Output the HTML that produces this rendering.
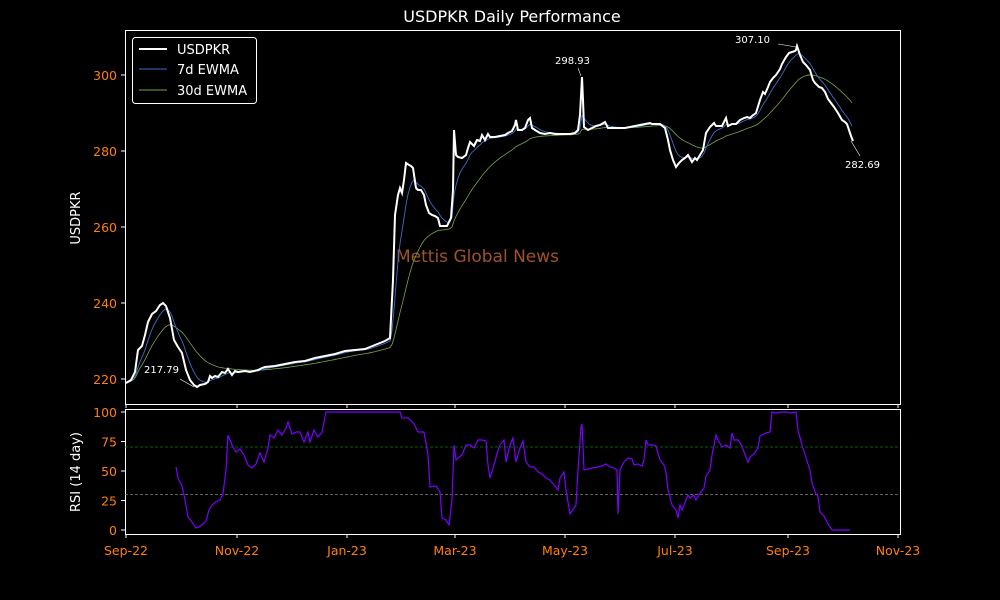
<!DOCTYPE html>
<html><head><meta charset="utf-8"><style>
body{margin:0;background:#000;}
svg{display:block;font-family:"DejaVu Sans","Liberation Sans",sans-serif;}
</style></head><body>
<svg id="s" width="1000" height="600" viewBox="0 0 1000 600" xmlns="http://www.w3.org/2000/svg">
<rect width="1000" height="600" fill="#000"/>
<text x="512" y="22" fill="#fff" font-size="16" text-anchor="middle">USDPKR Daily Performance</text>
<rect x="125.5" y="30.5" width="775" height="374" fill="none" stroke="#fff" stroke-width="1"/>
<rect x="125.5" y="409.5" width="775" height="125" fill="none" stroke="#fff" stroke-width="1"/>
<g id="yt" fill="#ff7f0e" font-size="12.5" text-anchor="end"></g>
<text x="80" y="218" fill="#fff" font-size="13" text-anchor="middle" transform="rotate(-90 80 218)">USDPKR</text>
<text x="80" y="472" fill="#fff" font-size="13" text-anchor="middle" transform="rotate(-90 80 472)">RSI (14 day)</text>
<text x="396" y="262" fill="#a0522d" font-size="17">Mettis Global News</text>
<line x1="125" y1="447" x2="900" y2="447" stroke="#008000" stroke-dasharray="3,2" stroke-width="0.8"/>
<line x1="125" y1="494.6" x2="900" y2="494.6" stroke="#808080" stroke-dasharray="3,2" stroke-width="0.8"/>
<polyline id="g30" fill="none" stroke="#77a54a" stroke-width="0.8"/>
<polyline id="b7" fill="none" stroke="#3b6fc4" stroke-width="0.9"/>
<polyline id="w" fill="none" stroke="#fff" stroke-width="2"/>
<polyline id="rsi" fill="none" stroke="#7b00ff" stroke-width="1.2"/>
<g fill="#fff" font-size="10">
<text x="144" y="373">217.79</text><line x1="180" y1="379" x2="194" y2="387" stroke="#fff" stroke-width="0.6"/>
<text x="555" y="64">298.93</text><line x1="578" y1="68" x2="581" y2="76" stroke="#fff" stroke-width="0.6"/>
<text x="735" y="43">307.10</text><line x1="778" y1="44" x2="796" y2="47" stroke="#fff" stroke-width="0.6"/>
<text x="845" y="168">282.69</text><line x1="851" y1="141" x2="860" y2="156" stroke="#fff" stroke-width="0.6"/>
</g>
<rect x="132.5" y="37.5" width="124" height="66" rx="3" fill="#000" stroke="#fff" stroke-width="1"/>
<line x1="139" y1="49" x2="167" y2="49" stroke="#fff" stroke-width="2"/>
<line x1="139" y1="69" x2="167" y2="69" stroke="#3b6fc4" stroke-width="1"/>
<line x1="139" y1="90" x2="167" y2="90" stroke="#77a54a" stroke-width="1"/>
<g fill="#fff" font-size="13"><text x="177" y="54">USDPKR</text><text x="177" y="74">7d EWMA</text><text x="177" y="95">30d EWMA</text></g>
</svg>
<script>
var NS="http://www.w3.org/2000/svg",s=document.getElementById('s'),yt=document.getElementById('yt');
function el(t,a,p){var e=document.createElementNS(NS,t);for(var k in a)e.setAttribute(k,a[k]);(p||s).appendChild(e);return e;}
[[220,379],[240,303],[260,227],[280,151],[300,75]].forEach(function(v){el('line',{x1:121,x2:125,y1:v[1],y2:v[1],stroke:'#fff'});var t=el('text',{x:117,y:v[1]+5},yt);t.textContent=v[0];});
[[0,530],[25,500.5],[50,471],[75,441.5],[100,412]].forEach(function(v){el('line',{x1:121,x2:125,y1:v[1],y2:v[1],stroke:'#fff'});var t=el('text',{x:117,y:v[1]+5},yt);t.textContent=v[0];});
[['Sep-22',126],['Nov-22',237],['Jan-23',347],['Mar-23',455],['May-23',565],['Jul-23',675],['Sep-23',788],['Nov-23',898]].forEach(function(v){
el('line',{x1:v[1],x2:v[1],y1:404,y2:408,stroke:'#fff'});el('line',{x1:v[1],x2:v[1],y1:534,y2:538,stroke:'#fff'});
var t=el('text',{x:v[1],y:555,fill:'#ff7f0e','font-size':12.5,'text-anchor':'middle'});t.textContent=v[0];});
var W=[[126,383],[131,380],[135,372],[138,350],[142,346],[145,335],[148,322],[152,314],[156,311],[160,305],[163,303],[166,306],[170,318],[174,340],[178,347],[182,353],[186,370],[190,380],[194,385],[197,387],[200,385],[205,384],[208,382],[210,376],[212,378],[215,376],[218,377],[222,372],[225,373],[228,369],[232,375],[235,371],[238,372],[245,371],[250,372],[258,370],[262,368],[265,367],[275,366],[285,364],[295,362],[305,361],[315,358],[325,356],[335,354],[345,351],[355,350],[365,349],[375,345],[385,341],[390,338],[393,280],[395,215],[398,195],[400,188],[402,193],[404,180],[406,163],[409,165],[411,166],[413,168],[416,188],[418,190],[421,190],[424,195],[426,205],[429,213],[432,215],[435,216],[438,218],[440,226],[444,226],[447,226],[451,218],[453,190],[454,130],[456,155],[458,157],[462,158],[466,155],[468,148],[470,142],[474,146],[477,140],[480,141],[482,135],[485,140],[488,134],[490,137],[495,137],[500,136],[505,135],[508,133],[512,131],[515,125],[516,120],[518,130],[522,130],[525,128],[528,120],[530,118],[532,128],[535,130],[540,133],[545,134],[550,133],[555,134],[565,134],[570,134],[575,133],[578,130],[580,115],[582,77],[583,100],[584,127],[588,130],[592,128],[596,126],[600,125],[605,122],[608,128],[615,128],[625,128],[630,127],[635,126],[640,125],[645,124],[650,123],[652,124],[660,124],[665,128],[668,140],[670,150],[673,160],[676,167],[679,163],[682,160],[685,158],[688,155],[692,162],[695,158],[697,160],[700,155],[703,150],[706,133],[710,127],[714,123],[716,126],[718,126],[722,126],[726,118],[728,126],[732,124],[736,124],[740,120],[744,118],[747,117],[750,118],[752,116],[756,113],[760,100],[763,92],[765,94],[768,87],[770,82],[773,78],[776,75],[780,69],[782,64],[786,57],[789,53],[792,52],[795,51],[796,50],[797,46],[800,55],[803,62],[806,65],[810,70],[813,80],[815,83],[819,87],[822,88],[825,92],[828,99],[831,103],[834,107],[838,113],[842,120],[845,122],[847,124],[849,130],[851,136],[853,141]];
function P(a){return a.map(function(p){return p[0]+','+p[1]}).join(' ');}
document.getElementById('w').setAttribute('points',P(W));
function interp(x){for(var i=1;i<W.length;i++){if(W[i][0]>=x){var a=W[i-1],b=W[i];return a[1]+(b[1]-a[1])*(x-a[0])/(b[0]-a[0]);}}return W[W.length-1][1];}
function ew(span){var al=2/(span+1),out=[],num=0,den=0;for(var x=126;x<=853;x+=2.0){var y=interp(x);num=y+(1-al)*num;den=1+(1-al)*den;out.push([x.toFixed(1),(num/den).toFixed(1)]);}return out;}
document.getElementById('b7').setAttribute('points',P(ew(7)));
document.getElementById('g30').setAttribute('points',P(ew(30)));
var R=[[176,467],[178,478],[182,486],[185,500],[188,517],[192,522],[196,528],[199,527],[203,524],[206,521],[209,510],[212,505],[216,502],[220,500],[223,494],[226,470],[228,435],[232,445],[236,452],[240,449],[244,455],[248,465],[252,468],[256,464],[260,453],[264,462],[268,448],[270,435],[274,438],[278,430],[282,435],[286,428],[288,422],[292,434],[296,432],[300,432],[304,442],[308,432],[310,442],[314,430],[318,437],[322,432],[326,412],[400,412],[402,418],[408,418],[414,424],[418,432],[424,432],[428,455],[430,487],[436,486],[440,492],[442,518],[446,520],[449,525],[452,500],[454,445],[456,460],[458,458],[462,455],[466,445],[470,445],[474,448],[478,440],[482,440],[486,441],[488,465],[490,478],[494,465],[498,450],[500,445],[504,440],[506,462],[510,445],[513,438],[516,462],[520,448],[523,441],[526,462],[530,467],[534,467],[538,472],[542,474],[546,478],[550,480],[554,485],[558,490],[560,478],[564,472],[566,490],[570,514],[574,508],[576,505],[578,470],[581,427],[582,424],[584,470],[588,469],[592,468],[598,467],[602,466],[606,464],[610,467],[614,468],[617,470],[618,514],[620,470],[624,462],[628,458],[632,459],[634,465],[638,464],[642,466],[644,460],[646,440],[648,445],[652,445],[656,446],[660,460],[664,465],[666,472],[668,490],[672,505],[676,510],[678,518],[680,505],[682,510],[686,500],[688,495],[690,498],[694,495],[696,500],[700,493],[704,488],[706,476],[710,470],[712,455],[716,435],[718,440],[722,447],[726,445],[730,448],[732,433],[734,440],[738,440],[742,446],[744,452],[748,462],[750,457],[754,454],[758,448],[760,436],[766,433],[770,432],[772,412],[776,413],[782,412],[786,412],[790,413],[796,412],[798,430],[802,445],[806,458],[810,470],[812,483],[816,494],[818,497],[820,512],[824,516],[828,524],[832,530],[850,530]];
document.getElementById('rsi').setAttribute('points',P(R));
</script>
</body></html>
